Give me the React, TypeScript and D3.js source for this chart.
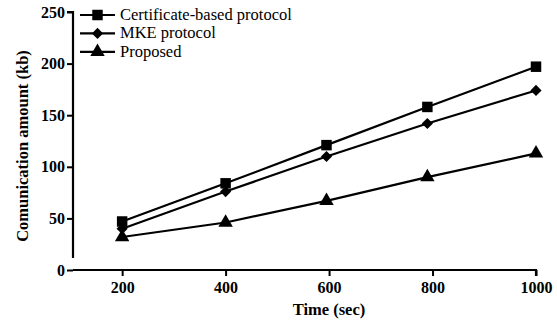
import React, { useEffect, useRef } from "react";
import * as d3 from "d3";

const times = [200, 400, 595, 790, 1000];
const certificate = [47, 84, 121, 158, 197];
const mke = [40, 76, 110, 142, 174];
const proposed = [32, 46, 67, 90, 113];
const xTicks = [200, 400, 600, 800, 1000];
const yTicks = [0, 50, 100, 150, 200, 250];
const seriesNames = ["Certificate-based protocol", "MKE protocol", "Proposed"];

export default function App() {
  const ref = useRef<SVGSVGElement>(null);

  useEffect(() => {
    const svg = d3.select(ref.current).html(null);
    const font = "'Liberation Serif'";

    const x = d3.scaleLinear().domain([105, 1000]).range([73, 536]);
    const y = d3.scaleLinear().domain([0, 250]).range([270, 12]);

    // axes
    const xAxis = svg
      .append("g")
      .attr("transform", "translate(0,270)")
      .call(d3.axisBottom(x).tickValues(xTicks).tickSize(6).tickPadding(6).tickFormat(d3.format("d")));
    const yAxis = svg
      .append("g")
      .attr("transform", "translate(73,0)")
      .call(d3.axisLeft(y).tickValues(yTicks).tickSize(6).tickPadding(2).tickFormat(d3.format("d")));

    [xAxis, yAxis].forEach((a) => {
      a.attr("font-family", font);
      a.select(".domain").attr("stroke", "#000").attr("stroke-width", 2.2);
      a.selectAll(".tick line").attr("stroke", "#000").attr("stroke-width", 2);
      a.selectAll(".tick text")
        .attr("fill", "#000")
        .attr("font-family", font)
        .attr("font-size", 16)
        .attr("font-weight", "bold");
    });
    xAxis.select(".domain").attr("d", "M73,0H536V6");
    yAxis.select(".domain").attr("d", "M-6,12H0V258");

    svg
      .append("text")
      .attr("x", 329)
      .attr("y", 315)
      .attr("text-anchor", "middle")
      .attr("font-family", font)
      .attr("font-size", 16.5)
      .attr("font-weight", "bold")
      .text("Time (sec)");

    svg
      .append("text")
      .attr("transform", "translate(28,146) rotate(-90)")
      .attr("text-anchor", "middle")
      .attr("font-family", font)
      .attr("font-size", 16.5)
      .attr("font-weight", "bold")
      .text("Comunication amount (kb)");

    const series = [certificate, mke, proposed];
    const symbols = [d3.symbolSquare, d3.symbolSquare, d3.symbolTriangle];
    const sizes = [110, 62, 90];
    const rotations = [0, 45, 0];

    const line = d3
      .line<number>()
      .x((d, i) => x(times[i]))
      .y((d) => y(d));

    series.forEach((vals, s) => {
      svg
        .append("path")
        .datum(vals)
        .attr("d", line)
        .attr("fill", "none")
        .attr("stroke", "#000")
        .attr("stroke-width", 2.2);
      const sym = d3.symbol().type(symbols[s]).size(sizes[s]);
      svg
        .append("g")
        .selectAll("path")
        .data(vals)
        .enter()
        .append("path")
        .attr("transform", (d, i) => `translate(${x(times[i])},${y(d)}) rotate(${rotations[s]})`)
        .attr("d", sym)
        .attr("fill", "#000");
    });

    // legend
    const legend = svg.append("g").attr("transform", "translate(80,15)");
    seriesNames.forEach((name, s) => {
      const g = legend.append("g").attr("transform", `translate(0,${s * 18.4})`);
      g.append("line").attr("x1", 0).attr("x2", 35).attr("stroke", "#000").attr("stroke-width", 2.2);
      g.append("path")
        .attr("transform", `translate(17.5,0) rotate(${rotations[s]})`)
        .attr("d", d3.symbol().type(symbols[s]).size(sizes[s])())
        .attr("fill", "#000");
      g.append("text")
        .attr("x", 40)
        .attr("y", 5)
        .attr("font-family", font)
        .attr("font-size", 16.5)
        .text(name);
    });
  });

  return (
    <svg ref={ref} width={557} height={328} style={{ position: "absolute", left: 0, top: 0, background: "#fff" }}></svg>
  );
}
